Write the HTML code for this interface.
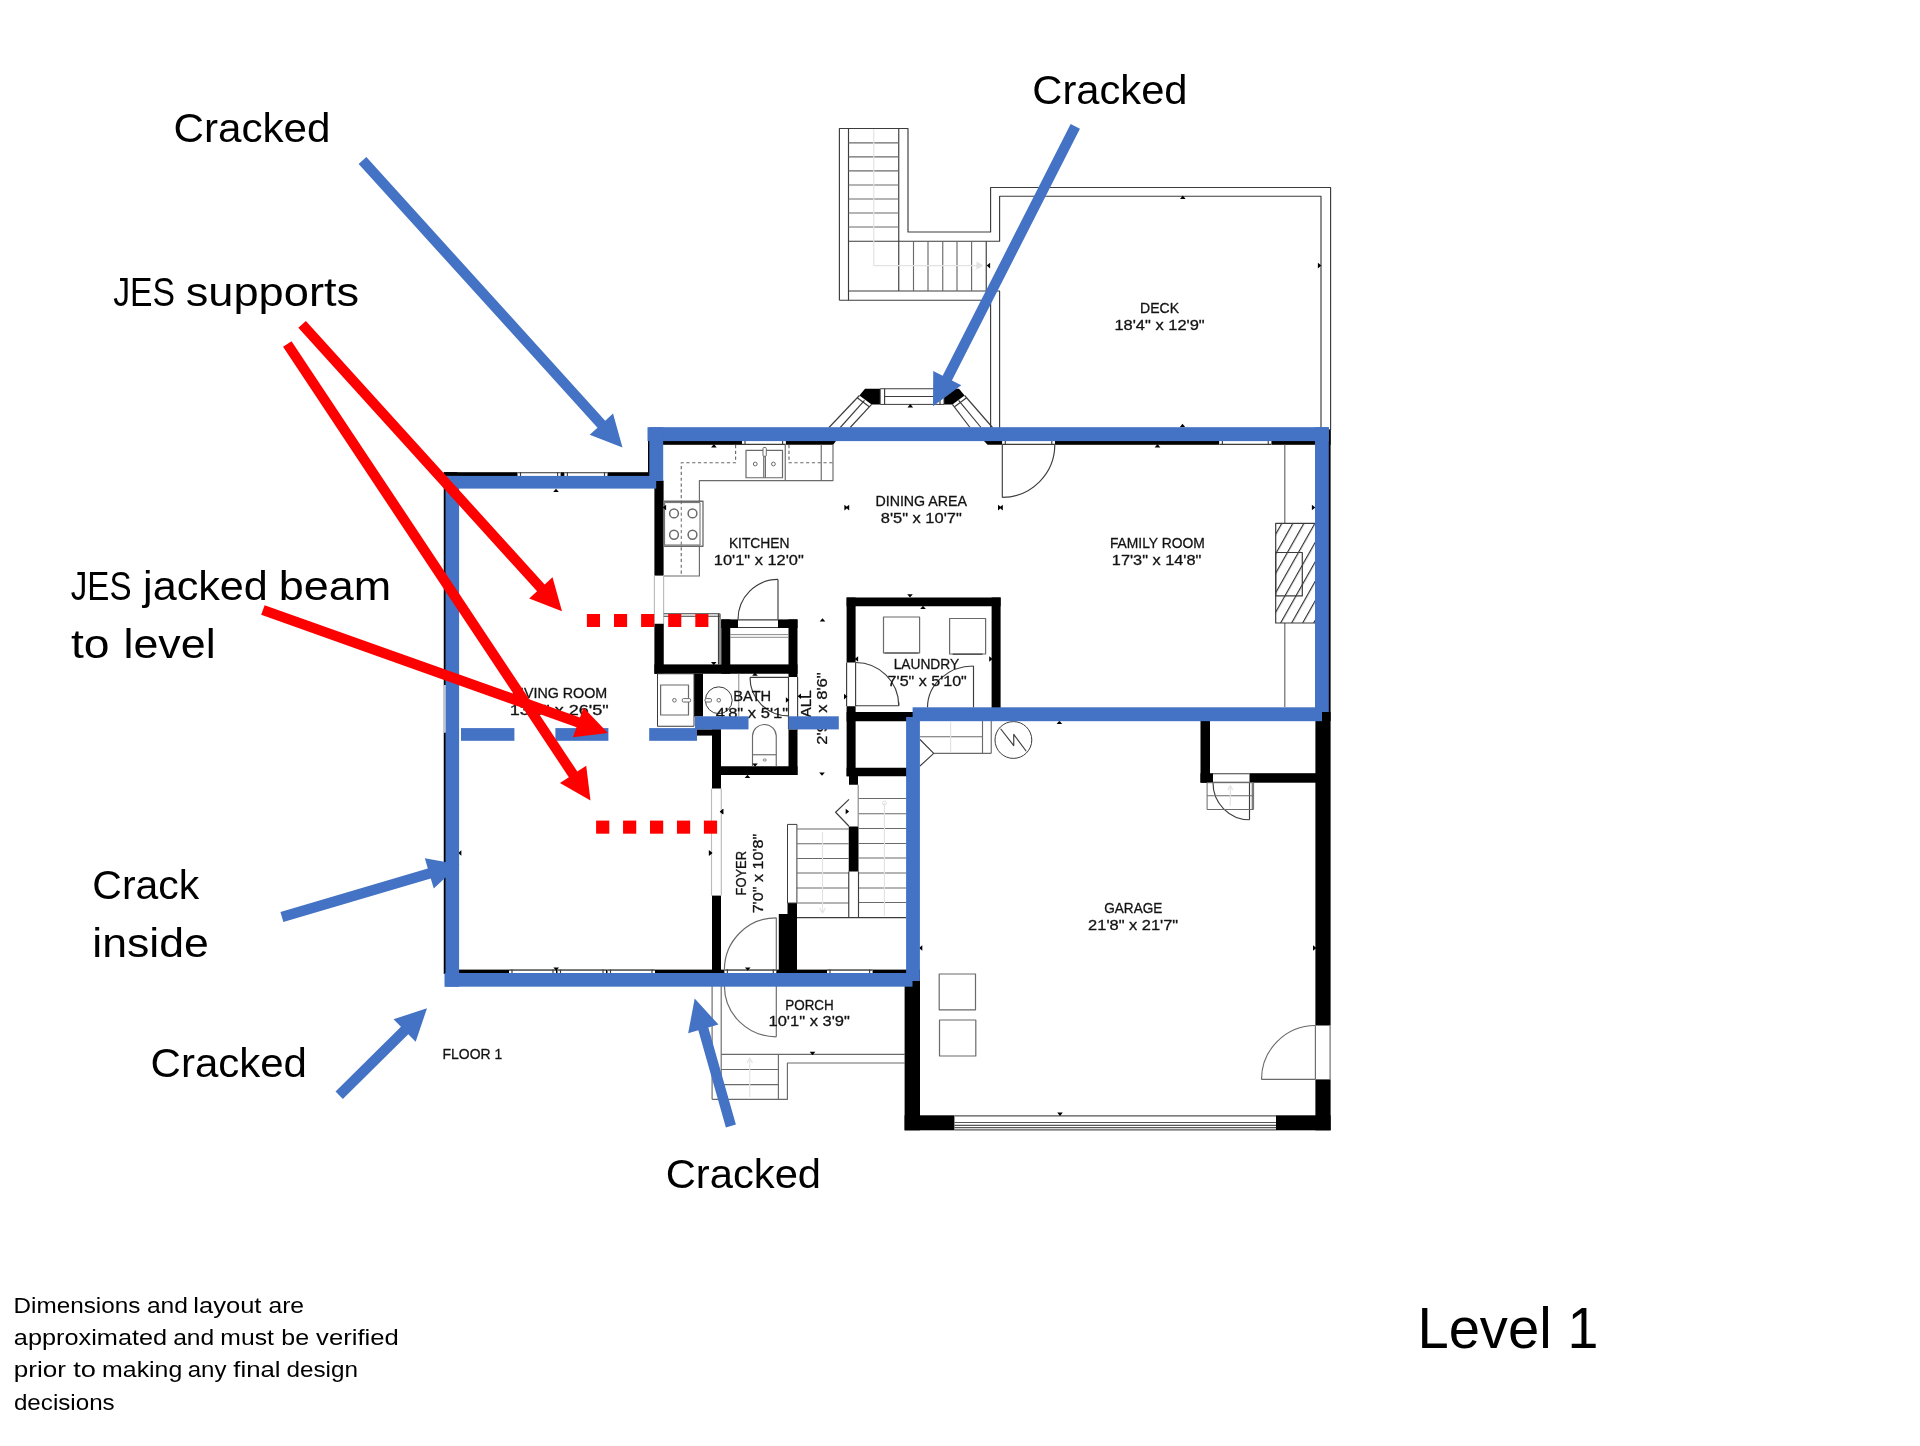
<!DOCTYPE html>
<html lang="en">
<head>
<meta charset="utf-8">
<title>Level 1 floor plan</title>
<style>
html,body{margin:0;padding:0;background:#fff;}
body{width:1920px;height:1446px;overflow:hidden;font-family:"Liberation Sans",sans-serif;}
svg{display:block;will-change:transform;}
</style>
</head>
<body>
<svg width="1920" height="1446" viewBox="0 0 1920 1446">
<rect width="1920" height="1446" fill="#ffffff"/>
<g id="plan" font-family="'Liberation Sans', sans-serif" stroke-linejoin="round">
<polyline points="839.40,300.25 839.40,128.50 908.00,128.50 908.00,232.00 990.60,232.00 990.60,187.50 1330.60,187.50 1330.60,430.00" fill="none" stroke="#3c3c3c" stroke-width="1.15" />
<polyline points="839.40,300.25 990.60,300.25 990.60,430.00" fill="none" stroke="#3c3c3c" stroke-width="1.15" />
<polyline points="848.50,128.50 848.50,300.25" fill="none" stroke="#3c3c3c" stroke-width="1.15" />
<polyline points="898.75,128.50 898.75,291.00" fill="none" stroke="#3c3c3c" stroke-width="1.15" />
<polyline points="848.50,241.25 999.60,241.25 999.60,196.25 1321.00,196.25 1321.00,430.00" fill="none" stroke="#3c3c3c" stroke-width="1.15" />
<polyline points="848.50,291.00 999.60,291.00 999.60,430.00" fill="none" stroke="#3c3c3c" stroke-width="1.15" />
<line x1="848.50" y1="142.90" x2="898.75" y2="142.90" stroke="#6a6a6a" stroke-width="1.15" />
<line x1="848.50" y1="156.90" x2="898.75" y2="156.90" stroke="#6a6a6a" stroke-width="1.15" />
<line x1="848.50" y1="170.90" x2="898.75" y2="170.90" stroke="#6a6a6a" stroke-width="1.15" />
<line x1="848.50" y1="185.00" x2="898.75" y2="185.00" stroke="#6a6a6a" stroke-width="1.15" />
<line x1="848.50" y1="199.00" x2="898.75" y2="199.00" stroke="#6a6a6a" stroke-width="1.15" />
<line x1="848.50" y1="213.00" x2="898.75" y2="213.00" stroke="#6a6a6a" stroke-width="1.15" />
<line x1="848.50" y1="227.00" x2="898.75" y2="227.00" stroke="#6a6a6a" stroke-width="1.15" />
<line x1="913.50" y1="241.25" x2="913.50" y2="291.00" stroke="#6a6a6a" stroke-width="1.15" />
<line x1="928.00" y1="241.25" x2="928.00" y2="291.00" stroke="#6a6a6a" stroke-width="1.15" />
<line x1="942.75" y1="241.25" x2="942.75" y2="291.00" stroke="#6a6a6a" stroke-width="1.15" />
<line x1="957.00" y1="241.25" x2="957.00" y2="291.00" stroke="#6a6a6a" stroke-width="1.15" />
<line x1="971.60" y1="241.25" x2="971.60" y2="291.00" stroke="#6a6a6a" stroke-width="1.15" />
<line x1="986.25" y1="241.25" x2="986.25" y2="291.00" stroke="#3c3c3c" stroke-width="1.15" />
<polyline points="873.75,129.00 873.75,265.60 981.00,265.60" fill="none" stroke="#e2e2e2" stroke-width="1.15" />
<polygon points="977.00,262.50 982.50,265.60 977.00,268.70" fill="#e2e2e2" stroke="#e2e2e2" stroke-width="1.15" />
<polygon points="865.00,388.75 880.20,388.75 880.20,404.40 871.60,404.40 859.40,395.50" fill="#000" stroke="none" stroke-width="0" />
<polygon points="959.00,388.75 944.00,388.75 944.00,404.40 952.40,404.40 964.60,395.50" fill="#000" stroke="none" stroke-width="0" />
<rect x="880.20" y="388.75" width="63.80" height="15.65" fill="#fff" stroke="#3c3c3c" stroke-width="1"/>
<line x1="884.60" y1="396.50" x2="940.00" y2="396.50" stroke="#3c3c3c" stroke-width="1.15" />
<line x1="884.60" y1="388.75" x2="884.60" y2="404.40" stroke="#3c3c3c" stroke-width="1.15" />
<line x1="940.00" y1="388.75" x2="940.00" y2="404.40" stroke="#3c3c3c" stroke-width="1.15" />
<line x1="859.40" y1="395.50" x2="829.00" y2="427.50" stroke="#3c3c3c" stroke-width="1.15" />
<line x1="864.50" y1="400.40" x2="840.30" y2="427.50" stroke="#3c3c3c" stroke-width="1.15" />
<line x1="871.60" y1="404.40" x2="850.20" y2="427.50" stroke="#3c3c3c" stroke-width="1.15" />
<line x1="857.20" y1="397.80" x2="869.30" y2="406.80" stroke="#3c3c3c" stroke-width="1.15" />
<line x1="964.60" y1="395.50" x2="992.50" y2="427.50" stroke="#3c3c3c" stroke-width="1.15" />
<line x1="958.60" y1="400.40" x2="981.00" y2="427.50" stroke="#3c3c3c" stroke-width="1.15" />
<line x1="952.40" y1="404.40" x2="970.00" y2="427.50" stroke="#3c3c3c" stroke-width="1.15" />
<line x1="966.60" y1="397.80" x2="954.60" y2="406.80" stroke="#3c3c3c" stroke-width="1.15" />
<rect x="648.00" y="430.50" width="94.00" height="14.30" fill="#000" />
<rect x="1054.80" y="430.50" width="164.60" height="14.30" fill="#000" />
<rect x="1271.25" y="430.50" width="59.35" height="14.30" fill="#000" />
<polygon points="785.60,430.50 836.00,430.50 836.00,441.00 833.20,444.80 785.60,444.80" fill="#000" stroke="none" stroke-width="0" />
<polygon points="984.00,430.50 1002.30,430.50 1002.30,444.80 987.60,444.80 984.00,441.00" fill="#000" stroke="none" stroke-width="0" />
<rect x="1317.00" y="429.40" width="13.60" height="291.60" fill="#000" />
<rect x="443.75" y="472.20" width="217.25" height="13.30" fill="#000" />
<rect x="648.00" y="430.50" width="13.50" height="55.00" fill="#000" />
<rect x="443.75" y="472.20" width="13.55" height="501.80" fill="#000" />
<rect x="445.00" y="969.60" width="475.00" height="13.40" fill="#000" />
<rect x="654.40" y="480.60" width="9.20" height="95.00" fill="#000" />
<rect x="742.00" y="430.50" width="43.60" height="14.30" fill="#fff" />
<line x1="742.00" y1="431.00" x2="785.60" y2="431.00" stroke="#3c3c3c" stroke-width="1.15" />
<line x1="742.00" y1="444.30" x2="785.60" y2="444.30" stroke="#3c3c3c" stroke-width="1.15" />
<line x1="745.00" y1="430.50" x2="745.00" y2="444.80" stroke="#3c3c3c" stroke-width="1.15" />
<line x1="782.60" y1="430.50" x2="782.60" y2="444.80" stroke="#3c3c3c" stroke-width="1.15" />
<rect x="1219.40" y="430.50" width="51.85" height="14.30" fill="#fff" />
<line x1="1219.40" y1="431.00" x2="1271.25" y2="431.00" stroke="#3c3c3c" stroke-width="1.15" />
<line x1="1219.40" y1="444.30" x2="1271.25" y2="444.30" stroke="#3c3c3c" stroke-width="1.15" />
<line x1="1222.40" y1="430.50" x2="1222.40" y2="444.80" stroke="#3c3c3c" stroke-width="1.15" />
<line x1="1268.25" y1="430.50" x2="1268.25" y2="444.80" stroke="#3c3c3c" stroke-width="1.15" />
<rect x="1002.30" y="430.50" width="52.50" height="14.30" fill="#fff" />
<line x1="1002.30" y1="431.00" x2="1054.80" y2="431.00" stroke="#3c3c3c" stroke-width="1.15" />
<line x1="1002.30" y1="444.30" x2="1054.80" y2="444.30" stroke="#3c3c3c" stroke-width="1.15" />
<line x1="1005.30" y1="430.50" x2="1005.30" y2="444.80" stroke="#3c3c3c" stroke-width="1.15" />
<line x1="1051.80" y1="430.50" x2="1051.80" y2="444.80" stroke="#3c3c3c" stroke-width="1.15" />
<line x1="1002.30" y1="444.60" x2="1002.30" y2="497.40" stroke="#3c3c3c" stroke-width="1.15" />
<path d="M1002.3,497.4 A52.6,52.8 0 0 0 1054.8,444.6" fill="none" stroke="#3c3c3c" stroke-width="1.15" />
<rect x="443.75" y="685.00" width="13.55" height="47.60" fill="#fff" />
<line x1="444.30" y1="685.00" x2="444.30" y2="732.60" stroke="#b8c0c8" stroke-width="1.2" />
<rect x="517.50" y="472.20" width="43.10" height="13.30" fill="#fff" />
<line x1="517.50" y1="472.70" x2="560.60" y2="472.70" stroke="#3c3c3c" stroke-width="1.15" />
<line x1="517.50" y1="485.00" x2="560.60" y2="485.00" stroke="#3c3c3c" stroke-width="1.15" />
<line x1="520.50" y1="472.20" x2="520.50" y2="485.50" stroke="#3c3c3c" stroke-width="1.15" />
<line x1="557.60" y1="472.20" x2="557.60" y2="485.50" stroke="#3c3c3c" stroke-width="1.15" />
<rect x="564.40" y="472.20" width="43.10" height="13.30" fill="#fff" />
<line x1="564.40" y1="472.70" x2="607.50" y2="472.70" stroke="#3c3c3c" stroke-width="1.15" />
<line x1="564.40" y1="485.00" x2="607.50" y2="485.00" stroke="#3c3c3c" stroke-width="1.15" />
<line x1="567.40" y1="472.20" x2="567.40" y2="485.50" stroke="#3c3c3c" stroke-width="1.15" />
<line x1="604.50" y1="472.20" x2="604.50" y2="485.50" stroke="#3c3c3c" stroke-width="1.15" />
<rect x="509.00" y="969.60" width="47.00" height="13.40" fill="#fff" />
<line x1="509.00" y1="970.10" x2="556.00" y2="970.10" stroke="#3c3c3c" stroke-width="1.15" />
<line x1="509.00" y1="982.50" x2="556.00" y2="982.50" stroke="#3c3c3c" stroke-width="1.15" />
<line x1="512.00" y1="969.60" x2="512.00" y2="983.00" stroke="#3c3c3c" stroke-width="1.15" />
<line x1="553.00" y1="969.60" x2="553.00" y2="983.00" stroke="#3c3c3c" stroke-width="1.15" />
<rect x="557.50" y="969.60" width="48.50" height="13.40" fill="#fff" />
<line x1="557.50" y1="970.10" x2="606.00" y2="970.10" stroke="#3c3c3c" stroke-width="1.15" />
<line x1="557.50" y1="982.50" x2="606.00" y2="982.50" stroke="#3c3c3c" stroke-width="1.15" />
<line x1="560.50" y1="969.60" x2="560.50" y2="983.00" stroke="#3c3c3c" stroke-width="1.15" />
<line x1="603.00" y1="969.60" x2="603.00" y2="983.00" stroke="#3c3c3c" stroke-width="1.15" />
<rect x="607.50" y="969.60" width="47.50" height="13.40" fill="#fff" />
<line x1="607.50" y1="970.10" x2="655.00" y2="970.10" stroke="#3c3c3c" stroke-width="1.15" />
<line x1="607.50" y1="982.50" x2="655.00" y2="982.50" stroke="#3c3c3c" stroke-width="1.15" />
<line x1="610.50" y1="969.60" x2="610.50" y2="983.00" stroke="#3c3c3c" stroke-width="1.15" />
<line x1="652.00" y1="969.60" x2="652.00" y2="983.00" stroke="#3c3c3c" stroke-width="1.15" />
<rect x="827.00" y="969.60" width="45.60" height="13.40" fill="#fff" />
<line x1="827.00" y1="970.10" x2="872.60" y2="970.10" stroke="#3c3c3c" stroke-width="1.15" />
<line x1="827.00" y1="982.50" x2="872.60" y2="982.50" stroke="#3c3c3c" stroke-width="1.15" />
<line x1="830.00" y1="969.60" x2="830.00" y2="983.00" stroke="#3c3c3c" stroke-width="1.15" />
<line x1="869.60" y1="969.60" x2="869.60" y2="983.00" stroke="#3c3c3c" stroke-width="1.15" />
<rect x="724.40" y="969.60" width="51.90" height="13.40" fill="#fff" />
<line x1="724.40" y1="970.10" x2="776.30" y2="970.10" stroke="#3c3c3c" stroke-width="1.15" />
<line x1="724.40" y1="982.50" x2="776.30" y2="982.50" stroke="#3c3c3c" stroke-width="1.15" />
<line x1="727.40" y1="969.60" x2="727.40" y2="983.00" stroke="#3c3c3c" stroke-width="1.15" />
<line x1="773.30" y1="969.60" x2="773.30" y2="983.00" stroke="#3c3c3c" stroke-width="1.15" />
<polyline points="663.60,576.00 699.40,576.00 699.40,480.60 833.00,480.60 833.00,444.80" fill="none" stroke="#6a6a6a" stroke-width="1.15" />
<line x1="821.25" y1="444.80" x2="821.25" y2="480.60" stroke="#6a6a6a" stroke-width="1.15" />
<line x1="785.25" y1="444.80" x2="785.25" y2="480.60" stroke="#6a6a6a" stroke-width="1.15" />
<polyline points="735.60,445.00 735.60,462.75 681.25,462.75 681.25,574.00" fill="none" stroke="#6a6a6a" stroke-width="1.15" stroke-dasharray="3.2 2.6"/>
<polyline points="789.00,445.00 789.00,462.75 833.00,462.75" fill="none" stroke="#6a6a6a" stroke-width="1.15" stroke-dasharray="3.2 2.6"/>
<rect x="746.00" y="450.40" width="36.50" height="27.35" fill="#fff" stroke="#6a6a6a" stroke-width="1.2"/>
<line x1="763.75" y1="450.40" x2="763.75" y2="477.75" stroke="#6a6a6a" stroke-width="1.15" />
<line x1="765.40" y1="450.40" x2="765.40" y2="477.75" stroke="#6a6a6a" stroke-width="1.15" />
<circle cx="755.25" cy="464.00" r="1.90" fill="none" stroke="#6a6a6a" stroke-width="1"/>
<circle cx="773.40" cy="464.00" r="1.90" fill="none" stroke="#6a6a6a" stroke-width="1"/>
<rect x="763.00" y="447.50" width="3.30" height="8.80" fill="#fff" stroke="#6a6a6a" stroke-width="1" rx="1"/>
<rect x="663.60" y="501.25" width="39.40" height="45.00" fill="#fff" stroke="#6a6a6a" stroke-width="1.3"/>
<rect x="664.60" y="502.60" width="35.40" height="42.40" fill="none" stroke="#6a6a6a" stroke-width="1"/>
<line x1="681.25" y1="501.00" x2="681.25" y2="547.00" stroke="#6a6a6a" stroke-width="1" stroke-dasharray="3.2 2.6"/>
<circle cx="674.00" cy="513.40" r="4.40" fill="none" stroke="#6a6a6a" stroke-width="1.5"/>
<circle cx="674.00" cy="534.75" r="4.40" fill="none" stroke="#6a6a6a" stroke-width="1.5"/>
<circle cx="692.50" cy="513.40" r="4.40" fill="none" stroke="#6a6a6a" stroke-width="1.5"/>
<circle cx="692.50" cy="534.75" r="4.40" fill="none" stroke="#6a6a6a" stroke-width="1.5"/>
<line x1="654.40" y1="575.60" x2="654.40" y2="623.75" stroke="#bbb" stroke-width="1.15" />
<line x1="663.60" y1="575.60" x2="663.60" y2="623.75" stroke="#bbb" stroke-width="1.15" />
<rect x="654.40" y="623.75" width="9.35" height="50.00" fill="#000" />
<rect x="654.40" y="664.40" width="143.10" height="9.35" fill="#000" />
<rect x="721.25" y="619.40" width="16.75" height="8.60" fill="#000" />
<rect x="778.00" y="619.40" width="19.50" height="8.60" fill="#000" />
<rect x="721.25" y="619.40" width="9.00" height="54.35" fill="#000" />
<rect x="788.50" y="619.40" width="9.00" height="57.60" fill="#000" />
<rect x="694.00" y="673.75" width="9.00" height="42.75" fill="#000" />
<rect x="697.00" y="729.40" width="23.60" height="6.20" fill="#000" />
<rect x="712.00" y="729.40" width="9.00" height="59.10" fill="#000" />
<rect x="712.00" y="766.25" width="85.50" height="8.75" fill="#000" />
<rect x="788.50" y="729.40" width="9.00" height="45.60" fill="#000" />
<line x1="738.00" y1="619.90" x2="778.00" y2="619.90" stroke="#3c3c3c" stroke-width="1.15" />
<line x1="738.00" y1="627.50" x2="778.00" y2="627.50" stroke="#3c3c3c" stroke-width="1.15" />
<line x1="778.00" y1="619.40" x2="778.00" y2="579.40" stroke="#3c3c3c" stroke-width="1.15" />
<path d="M778,579.4 A40,40 0 0 0 738,619.4" fill="none" stroke="#3c3c3c" stroke-width="1.15" />
<line x1="730.25" y1="634.60" x2="788.50" y2="634.60" stroke="#6a6a6a" stroke-width="0.8" />
<line x1="730.25" y1="637.30" x2="788.50" y2="637.30" stroke="#6a6a6a" stroke-width="0.8" />
<line x1="663.75" y1="613.75" x2="719.80" y2="613.75" stroke="#3c3c3c" stroke-width="1.15" />
<line x1="663.75" y1="616.25" x2="719.80" y2="616.25" stroke="#3c3c3c" stroke-width="1.15" />
<line x1="718.50" y1="613.75" x2="718.50" y2="664.40" stroke="#3c3c3c" stroke-width="1.15" />
<line x1="720.00" y1="613.75" x2="720.00" y2="664.40" stroke="#3c3c3c" stroke-width="1.15" />
<rect x="657.50" y="673.75" width="36.50" height="52.50" fill="none" stroke="#3c3c3c" stroke-width="1"/>
<rect x="660.60" y="685.00" width="27.90" height="30.00" fill="none" stroke="#6a6a6a" stroke-width="1.2"/>
<circle cx="674.40" cy="700.25" r="1.80" fill="none" stroke="#6a6a6a" stroke-width="1"/>
<rect x="682.25" y="698.60" width="8.35" height="3.40" fill="#fff" stroke="#6a6a6a" stroke-width="1" rx="1.2"/>
<circle cx="718.75" cy="700.25" r="13.40" fill="none" stroke="#3c3c3c" stroke-width="1"/>
<circle cx="718.75" cy="700.25" r="1.80" fill="none" stroke="#6a6a6a" stroke-width="1"/>
<rect x="705.00" y="698.60" width="6.50" height="3.40" fill="#fff" stroke="#6a6a6a" stroke-width="1" rx="1.2"/>
<line x1="738.75" y1="673.75" x2="738.75" y2="716.00" stroke="#999" stroke-width="1.15" />
<line x1="750.00" y1="677.40" x2="788.50" y2="677.40" stroke="#3c3c3c" stroke-width="1.15" />
<path d="M750,677.4 A38.5,38.5 0 0 0 788.5,715.9" fill="none" stroke="#3c3c3c" stroke-width="1.15" />
<line x1="788.50" y1="677.00" x2="788.50" y2="729.40" stroke="#3c3c3c" stroke-width="1.15" />
<line x1="797.60" y1="677.00" x2="797.60" y2="729.40" stroke="#3c3c3c" stroke-width="1.15" />
<path d="M752.5,766.25 L752.5,735.6 A11.9,11.9 0 0 1 776.25,735.6 L776.25,766.25" fill="none" stroke="#6a6a6a" stroke-width="1.15" />
<line x1="752.50" y1="754.75" x2="776.25" y2="754.75" stroke="#6a6a6a" stroke-width="1.15" />
<rect x="763.20" y="759.00" width="3.10" height="2.00" fill="none" stroke="#6a6a6a" stroke-width="0.8" rx="1"/>
<rect x="846.60" y="597.50" width="9.00" height="65.00" fill="#000" />
<rect x="846.60" y="706.25" width="9.00" height="70.00" fill="#000" />
<rect x="846.60" y="597.50" width="154.00" height="8.75" fill="#000" />
<rect x="991.60" y="597.50" width="9.00" height="114.50" fill="#000" />
<rect x="846.60" y="712.00" width="68.40" height="9.25" fill="#000" />
<rect x="846.60" y="767.75" width="63.40" height="8.50" fill="#000" />
<rect x="849.00" y="776.00" width="9.00" height="8.75" fill="#000" />
<rect x="883.50" y="617.00" width="36.10" height="36.00" fill="none" stroke="#6a6a6a" stroke-width="1.2"/>
<rect x="949.60" y="618.50" width="36.00" height="35.50" fill="none" stroke="#6a6a6a" stroke-width="1.2"/>
<line x1="884.50" y1="653.00" x2="918.60" y2="653.00" stroke="#3c3c3c" stroke-width="1.2" />
<line x1="952.60" y1="654.20" x2="982.60" y2="654.20" stroke="#3c3c3c" stroke-width="1.2" />
<line x1="846.60" y1="662.50" x2="846.60" y2="706.25" stroke="#3c3c3c" stroke-width="1.15" />
<line x1="855.60" y1="662.50" x2="855.60" y2="706.25" stroke="#3c3c3c" stroke-width="1.15" />
<line x1="855.60" y1="705.70" x2="898.75" y2="705.70" stroke="#3c3c3c" stroke-width="1.15" />
<line x1="898.75" y1="705.70" x2="898.75" y2="702.00" stroke="#3c3c3c" stroke-width="1.15" />
<path d="M898.75,705.7 A43.2,43.2 0 0 0 855.6,662.5" fill="none" stroke="#3c3c3c" stroke-width="1.15" />
<line x1="973.50" y1="666.00" x2="973.50" y2="707.50" stroke="#3c3c3c" stroke-width="1.15" />
<path d="M927.5,707.5 A46,41.5 0 0 1 973.5,666" fill="none" stroke="#3c3c3c" stroke-width="1.15" />
<line x1="920.00" y1="736.70" x2="982.50" y2="736.70" stroke="#6a6a6a" stroke-width="1.15" />
<line x1="933.50" y1="753.30" x2="991.25" y2="753.30" stroke="#6a6a6a" stroke-width="1.15" />
<line x1="982.50" y1="721.00" x2="982.50" y2="753.30" stroke="#6a6a6a" stroke-width="1.15" />
<line x1="991.25" y1="721.00" x2="991.25" y2="753.30" stroke="#6a6a6a" stroke-width="1.15" />
<polyline points="920.00,739.50 933.70,753.30 920.00,766.00" fill="none" stroke="#3c3c3c" stroke-width="1.15" />
<line x1="950.60" y1="722.00" x2="950.60" y2="753.00" stroke="#e2e2e2" stroke-width="1.15" />
<circle cx="1013.40" cy="740.00" r="18.40" fill="none" stroke="#3c3c3c" stroke-width="1"/>
<polyline points="1000.60,728.75 1013.75,745.60 1013.75,734.40 1026.25,751.25" fill="none" stroke="#3c3c3c" stroke-width="1.15" />
<rect x="848.75" y="826.50" width="9.75" height="45.00" fill="#000" />
<rect x="787.50" y="903.00" width="9.50" height="80.00" fill="#000" />
<rect x="778.80" y="914.00" width="18.20" height="69.00" fill="#000" />
<rect x="712.00" y="895.60" width="9.00" height="87.40" fill="#000" />
<rect x="787.50" y="824.40" width="9.40" height="78.60" fill="#fff" stroke="#3c3c3c" stroke-width="1"/>
<line x1="796.90" y1="829.00" x2="848.75" y2="829.00" stroke="#6a6a6a" stroke-width="1.2" />
<line x1="796.90" y1="843.75" x2="848.75" y2="843.75" stroke="#6a6a6a" stroke-width="1.2" />
<line x1="796.90" y1="858.50" x2="848.75" y2="858.50" stroke="#6a6a6a" stroke-width="1.2" />
<line x1="796.90" y1="873.00" x2="848.75" y2="873.00" stroke="#6a6a6a" stroke-width="1.2" />
<line x1="796.90" y1="888.00" x2="848.75" y2="888.00" stroke="#6a6a6a" stroke-width="1.2" />
<line x1="796.90" y1="903.00" x2="848.75" y2="903.00" stroke="#6a6a6a" stroke-width="1.2" />
<line x1="858.50" y1="798.50" x2="906.25" y2="798.50" stroke="#6a6a6a" stroke-width="1.2" />
<line x1="858.50" y1="813.75" x2="906.25" y2="813.75" stroke="#6a6a6a" stroke-width="1.2" />
<line x1="858.50" y1="828.50" x2="906.25" y2="828.50" stroke="#6a6a6a" stroke-width="1.2" />
<line x1="858.50" y1="843.50" x2="906.25" y2="843.50" stroke="#6a6a6a" stroke-width="1.2" />
<line x1="858.50" y1="858.00" x2="906.25" y2="858.00" stroke="#6a6a6a" stroke-width="1.2" />
<line x1="858.50" y1="873.00" x2="906.25" y2="873.00" stroke="#6a6a6a" stroke-width="1.2" />
<line x1="858.50" y1="888.00" x2="906.25" y2="888.00" stroke="#6a6a6a" stroke-width="1.2" />
<line x1="858.50" y1="902.50" x2="906.25" y2="902.50" stroke="#6a6a6a" stroke-width="1.2" />
<line x1="796.90" y1="917.70" x2="906.25" y2="917.70" stroke="#3c3c3c" stroke-width="1.2" />
<line x1="848.75" y1="871.50" x2="848.75" y2="917.70" stroke="#3c3c3c" stroke-width="1.15" />
<line x1="858.50" y1="871.50" x2="858.50" y2="917.70" stroke="#3c3c3c" stroke-width="1.15" />
<line x1="858.20" y1="784.75" x2="858.20" y2="826.50" stroke="#888" stroke-width="1.15" />
<line x1="822.50" y1="832.00" x2="822.50" y2="912.00" stroke="#e2e2e2" stroke-width="1.15" />
<polyline points="819.50,908.00 822.50,913.00 825.50,908.00" fill="none" stroke="#e2e2e2" stroke-width="1.15" />
<line x1="884.40" y1="803.00" x2="884.40" y2="916.00" stroke="#e2e2e2" stroke-width="1.15" />
<circle cx="884.40" cy="803.00" r="2.00" fill="none" stroke="#e2e2e2" stroke-width="1"/>
<polyline points="849.00,799.40 835.60,812.25 849.00,826.25" fill="none" stroke="#3c3c3c" stroke-width="1.15" />
<line x1="711.50" y1="788.50" x2="711.50" y2="895.60" stroke="#bbb" stroke-width="1.15" />
<line x1="721.30" y1="788.50" x2="721.30" y2="895.60" stroke="#bbb" stroke-width="1.15" />
<line x1="776.30" y1="917.80" x2="776.30" y2="970.00" stroke="#6a6a6a" stroke-width="1.15" />
<path d="M776.3,917.8 A52,52 0 0 0 724.4,969.6" fill="none" stroke="#6a6a6a" stroke-width="1.15" />
<line x1="776.30" y1="986.00" x2="776.30" y2="1036.80" stroke="#6a6a6a" stroke-width="1.15" />
<path d="M724.4,986 A52,51 0 0 0 776.3,1036.8" fill="none" stroke="#6a6a6a" stroke-width="1.15" />
<line x1="712.10" y1="986.00" x2="712.10" y2="1099.30" stroke="#6a6a6a" stroke-width="1.15" />
<line x1="721.20" y1="986.00" x2="721.20" y2="1099.30" stroke="#6a6a6a" stroke-width="1.15" />
<line x1="721.20" y1="1054.40" x2="904.60" y2="1054.40" stroke="#6a6a6a" stroke-width="1.15" />
<polyline points="904.60,1063.00 787.40,1063.00 787.40,1099.30 712.10,1099.30" fill="none" stroke="#6a6a6a" stroke-width="1.15" />
<line x1="778.40" y1="1054.40" x2="778.40" y2="1099.30" stroke="#6a6a6a" stroke-width="1.15" />
<line x1="721.20" y1="1069.50" x2="778.40" y2="1069.50" stroke="#6a6a6a" stroke-width="1.15" />
<line x1="721.20" y1="1084.60" x2="778.40" y2="1084.60" stroke="#6a6a6a" stroke-width="1.15" />
<line x1="749.75" y1="1060.00" x2="749.75" y2="1097.00" stroke="#e2e2e2" stroke-width="1.15" />
<polyline points="747.00,1063.00 749.75,1058.00 752.50,1063.00" fill="none" stroke="#e2e2e2" stroke-width="1.15" />
<rect x="904.60" y="981.00" width="15.40" height="149.30" fill="#000" />
<rect x="904.60" y="1115.30" width="49.80" height="15.00" fill="#000" />
<rect x="1276.00" y="1115.30" width="54.60" height="15.00" fill="#000" />
<rect x="1315.40" y="712.00" width="15.20" height="313.50" fill="#000" />
<rect x="1315.40" y="1079.40" width="15.20" height="50.90" fill="#000" />
<rect x="1200.50" y="721.00" width="9.50" height="61.70" fill="#000" />
<rect x="1200.50" y="773.20" width="12.50" height="9.50" fill="#000" />
<rect x="1249.50" y="773.20" width="66.50" height="9.50" fill="#000" />
<line x1="954.40" y1="1115.80" x2="1276.00" y2="1115.80" stroke="#555" stroke-width="1.15" />
<line x1="954.40" y1="1122.50" x2="1276.00" y2="1122.50" stroke="#555" stroke-width="1.15" />
<line x1="954.40" y1="1125.30" x2="1276.00" y2="1125.30" stroke="#555" stroke-width="1.15" />
<line x1="954.40" y1="1127.60" x2="1276.00" y2="1127.60" stroke="#555" stroke-width="1.15" />
<line x1="954.40" y1="1129.80" x2="1276.00" y2="1129.80" stroke="#555" stroke-width="1.15" />
<line x1="1315.40" y1="1025.50" x2="1315.40" y2="1079.40" stroke="#6a6a6a" stroke-width="1.15" />
<line x1="1330.10" y1="1025.50" x2="1330.10" y2="1079.40" stroke="#6a6a6a" stroke-width="1.15" />
<line x1="1261.50" y1="1079.40" x2="1315.40" y2="1079.40" stroke="#6a6a6a" stroke-width="1.15" />
<path d="M1261.5,1079.4 A54,54 0 0 1 1315.4,1025.5" fill="none" stroke="#6a6a6a" stroke-width="1.15" />
<rect x="939.20" y="974.00" width="36.30" height="35.80" fill="none" stroke="#6a6a6a" stroke-width="1.2"/>
<rect x="939.50" y="1020.00" width="36.30" height="36.00" fill="none" stroke="#6a6a6a" stroke-width="1.2"/>
<line x1="1213.00" y1="773.70" x2="1249.50" y2="773.70" stroke="#3c3c3c" stroke-width="1.15" />
<line x1="1213.00" y1="782.20" x2="1249.50" y2="782.20" stroke="#3c3c3c" stroke-width="1.15" />
<line x1="1249.50" y1="782.70" x2="1249.50" y2="819.80" stroke="#3c3c3c" stroke-width="1.15" />
<path d="M1213,782.7 A36.8,37 0 0 0 1249.5,819.8" fill="none" stroke="#3c3c3c" stroke-width="1.15" />
<rect x="1207.10" y="782.70" width="46.50" height="26.80" fill="none" stroke="#6a6a6a" stroke-width="1"/>
<line x1="1207.10" y1="795.70" x2="1253.60" y2="795.70" stroke="#6a6a6a" stroke-width="1.15" />
<line x1="1252.30" y1="782.70" x2="1252.30" y2="809.50" stroke="#6a6a6a" stroke-width="1.15" />
<line x1="1230.30" y1="787.00" x2="1230.30" y2="806.00" stroke="#e2e2e2" stroke-width="1.15" />
<polyline points="1227.80,790.00 1230.30,785.50 1232.80,790.00" fill="none" stroke="#e2e2e2" stroke-width="1.15" />
<line x1="1284.80" y1="444.80" x2="1284.80" y2="707.00" stroke="#666" stroke-width="1.15" />
<defs><pattern id="hatch" patternUnits="userSpaceOnUse" width="9.6" height="40" patternTransform="rotate(29.5)"><rect width="9.6" height="40" fill="#fff"/><line x1="0.6" y1="0" x2="0.6" y2="40" stroke="#222" stroke-width="1.1"/></pattern></defs>
<rect x="1275.70" y="523.40" width="41.30" height="99.60" fill="url(#hatch)" stroke="#3c3c3c" stroke-width="1.2"/>
<rect x="1275.70" y="552.50" width="26.60" height="43.40" fill="none" stroke="#3c3c3c" stroke-width="1.2"/>
<text x="1140.11" y="313.00" font-size="13.9" fill="#111" textLength="38.94" lengthAdjust="spacingAndGlyphs" stroke="#1a1a1a" stroke-width="0.3">DECK</text>
<text x="1114.41" y="329.90" font-size="13.9" fill="#111" textLength="90.30" lengthAdjust="spacingAndGlyphs" stroke="#1a1a1a" stroke-width="0.3">18'4&quot; x 12'9&quot;</text>
<text x="875.45" y="505.80" font-size="13.9" fill="#111" textLength="91.61" lengthAdjust="spacingAndGlyphs" stroke="#1a1a1a" stroke-width="0.3">DINING AREA</text>
<text x="880.76" y="522.70" font-size="13.9" fill="#111" textLength="81.04" lengthAdjust="spacingAndGlyphs" stroke="#1a1a1a" stroke-width="0.3">8'5&quot; x 10'7&quot;</text>
<text x="728.88" y="547.90" font-size="13.9" fill="#111" textLength="60.66" lengthAdjust="spacingAndGlyphs" stroke="#1a1a1a" stroke-width="0.3">KITCHEN</text>
<text x="713.82" y="564.80" font-size="13.9" fill="#111" textLength="89.89" lengthAdjust="spacingAndGlyphs" stroke="#1a1a1a" stroke-width="0.3">10'1&quot; x 12'0&quot;</text>
<text x="1109.88" y="548.20" font-size="13.9" fill="#111" textLength="94.83" lengthAdjust="spacingAndGlyphs" stroke="#1a1a1a" stroke-width="0.3">FAMILY ROOM</text>
<text x="1111.82" y="565.10" font-size="13.9" fill="#111" textLength="89.48" lengthAdjust="spacingAndGlyphs" stroke="#1a1a1a" stroke-width="0.3">17'3&quot; x 14'8&quot;</text>
<text x="512.04" y="698.30" font-size="13.9" fill="#111" textLength="95.13" lengthAdjust="spacingAndGlyphs" stroke="#1a1a1a" stroke-width="0.3">LIVING ROOM</text>
<text x="509.70" y="715.20" font-size="13.9" fill="#111" textLength="99.08" lengthAdjust="spacingAndGlyphs" stroke="#1a1a1a" stroke-width="0.3">13'5&quot; x 26'5&quot;</text>
<text x="733.21" y="700.60" font-size="13.9" fill="#111" textLength="37.94" lengthAdjust="spacingAndGlyphs" stroke="#1a1a1a" stroke-width="0.3">BATH</text>
<text x="715.80" y="717.50" font-size="13.9" fill="#111" textLength="72.34" lengthAdjust="spacingAndGlyphs" stroke="#1a1a1a" stroke-width="0.3">4'8&quot; x 5'1&quot;</text>
<text x="893.63" y="668.60" font-size="13.9" fill="#111" textLength="65.54" lengthAdjust="spacingAndGlyphs" stroke="#1a1a1a" stroke-width="0.3">LAUNDRY</text>
<text x="887.63" y="685.50" font-size="13.9" fill="#111" textLength="79.20" lengthAdjust="spacingAndGlyphs" stroke="#1a1a1a" stroke-width="0.3">7'5&quot; x 5'10&quot;</text>
<text x="1104.27" y="913.00" font-size="13.9" fill="#111" textLength="58.04" lengthAdjust="spacingAndGlyphs" stroke="#1a1a1a" stroke-width="0.3">GARAGE</text>
<text x="1088.11" y="929.90" font-size="13.9" fill="#111" textLength="90.10" lengthAdjust="spacingAndGlyphs" stroke="#1a1a1a" stroke-width="0.3">21'8&quot; x 21'7&quot;</text>
<text x="785.21" y="1009.50" font-size="13.9" fill="#111" textLength="48.56" lengthAdjust="spacingAndGlyphs" stroke="#1a1a1a" stroke-width="0.3">PORCH</text>
<text x="768.51" y="1026.40" font-size="13.9" fill="#111" textLength="81.39" lengthAdjust="spacingAndGlyphs" stroke="#1a1a1a" stroke-width="0.3">10'1&quot; x 3'9&quot;</text>
<text x="442.62" y="1059.00" font-size="13.9" fill="#111" textLength="59.63" lengthAdjust="spacingAndGlyphs" stroke="#1a1a1a" stroke-width="0.3">FLOOR 1</text>
<text x="746.25" y="895.45" font-size="13.9" fill="#111" textLength="44.47" lengthAdjust="spacingAndGlyphs" transform="rotate(-90 746.25 895.45)" stroke="#1a1a1a" stroke-width="0.3">FOYER</text>
<text x="763.00" y="913.37" font-size="13.9" fill="#111" textLength="79.56" lengthAdjust="spacingAndGlyphs" transform="rotate(-90 763.00 913.37)" stroke="#1a1a1a" stroke-width="0.3">7'0&quot; x 10'8&quot;</text>
<text x="810.60" y="728.44" font-size="13.9" fill="#111" textLength="38.35" lengthAdjust="spacingAndGlyphs" transform="rotate(-90 810.60 728.44)" stroke="#1a1a1a" stroke-width="0.3">HALL</text>
<text x="827.50" y="744.64" font-size="13.9" fill="#111" textLength="72.29" lengthAdjust="spacingAndGlyphs" transform="rotate(-90 827.50 744.64)" stroke="#1a1a1a" stroke-width="0.3">2'9&quot; x 8'6&quot;</text>
<polygon points="1182.80,195.60 1180.00,199.00 1185.60,199.00" fill="#000" stroke="none" stroke-width="0" />
<polygon points="986.70,265.60 990.10,262.80 990.10,268.40" fill="#000" stroke="none" stroke-width="0" />
<polygon points="1321.30,265.60 1317.90,262.80 1317.90,268.40" fill="#000" stroke="none" stroke-width="0" />
<polygon points="556.00,488.70 553.20,492.10 558.80,492.10" fill="#000" stroke="none" stroke-width="0" />
<polygon points="713.90,444.00 711.10,447.40 716.70,447.40" fill="#000" stroke="none" stroke-width="0" />
<polygon points="1157.50,444.00 1154.70,447.40 1160.30,447.40" fill="#000" stroke="none" stroke-width="0" />
<polygon points="1059.40,720.70 1056.60,724.10 1062.20,724.10" fill="#000" stroke="none" stroke-width="0" />
<polygon points="1315.30,507.50 1311.90,504.70 1311.90,510.30" fill="#000" stroke="none" stroke-width="0" />
<polygon points="662.70,507.50 666.10,504.70 666.10,510.30" fill="#000" stroke="none" stroke-width="0" />
<polygon points="847.80,507.60 844.40,504.80 844.40,510.40" fill="#000" stroke="none" stroke-width="0" />
<polygon points="845.80,507.60 849.20,504.80 849.20,510.40" fill="#000" stroke="none" stroke-width="0" />
<polygon points="1001.40,507.60 998.00,504.80 998.00,510.40" fill="#000" stroke="none" stroke-width="0" />
<polygon points="999.40,507.60 1002.80,504.80 1002.80,510.40" fill="#000" stroke="none" stroke-width="0" />
<polygon points="910.00,597.60 907.20,594.20 912.80,594.20" fill="#000" stroke="none" stroke-width="0" />
<polygon points="923.00,605.70 920.20,609.10 925.80,609.10" fill="#000" stroke="none" stroke-width="0" />
<polygon points="854.70,659.00 858.10,656.20 858.10,661.80" fill="#000" stroke="none" stroke-width="0" />
<polygon points="992.60,659.00 989.20,656.20 989.20,661.80" fill="#000" stroke="none" stroke-width="0" />
<polygon points="822.50,618.20 819.70,621.60 825.30,621.60" fill="#000" stroke="none" stroke-width="0" />
<polygon points="713.75,665.30 710.95,661.90 716.55,661.90" fill="#000" stroke="none" stroke-width="0" />
<polygon points="755.00,672.40 752.20,675.80 757.80,675.80" fill="#000" stroke="none" stroke-width="0" />
<polygon points="789.30,700.00 785.90,697.20 785.90,702.80" fill="#000" stroke="none" stroke-width="0" />
<polygon points="797.60,696.30 801.00,693.50 801.00,699.10" fill="#000" stroke="none" stroke-width="0" />
<polygon points="847.40,696.60 844.00,693.80 844.00,699.40" fill="#000" stroke="none" stroke-width="0" />
<polygon points="719.95,811.50 723.35,808.70 723.35,814.30" fill="#000" stroke="none" stroke-width="0" />
<polygon points="849.10,811.50 845.70,808.70 845.70,814.30" fill="#000" stroke="none" stroke-width="0" />
<polygon points="712.20,853.00 708.80,850.20 708.80,855.80" fill="#000" stroke="none" stroke-width="0" />
<polygon points="747.50,774.70 744.70,778.10 750.30,778.10" fill="#000" stroke="none" stroke-width="0" />
<polygon points="822.00,775.80 819.20,772.40 824.80,772.40" fill="#000" stroke="none" stroke-width="0" />
<polygon points="755.00,766.80 752.20,763.40 757.80,763.40" fill="#000" stroke="none" stroke-width="0" />
<polygon points="458.00,853.00 461.40,850.20 461.40,855.80" fill="#000" stroke="none" stroke-width="0" />
<polygon points="712.50,853.00 709.10,850.20 709.10,855.80" fill="#000" stroke="none" stroke-width="0" />
<polygon points="719.70,811.70 723.10,808.90 723.10,814.50" fill="#000" stroke="none" stroke-width="0" />
<polygon points="747.75,970.80 744.95,967.40 750.55,967.40" fill="#000" stroke="none" stroke-width="0" />
<polygon points="812.50,1055.20 809.70,1051.80 815.30,1051.80" fill="#000" stroke="none" stroke-width="0" />
<polygon points="918.90,948.00 922.30,945.20 922.30,950.80" fill="#000" stroke="none" stroke-width="0" />
<polygon points="1316.40,948.00 1313.00,945.20 1313.00,950.80" fill="#000" stroke="none" stroke-width="0" />
<polygon points="1060.00,1116.00 1057.20,1112.60 1062.80,1112.60" fill="#000" stroke="none" stroke-width="0" />
<polygon points="556.20,970.80 553.40,967.40 559.00,967.40" fill="#000" stroke="none" stroke-width="0" />
<polygon points="1182.50,423.80 1179.70,427.20 1185.30,427.20" fill="#000" stroke="none" stroke-width="0" />
<polygon points="910.30,404.00 907.50,407.40 913.10,407.40" fill="#000" stroke="none" stroke-width="0" />
</g>
<g id="blue">
<rect x="647.50" y="427.20" width="681.30" height="13.90" fill="#4472C4" />
<rect x="649.30" y="427.20" width="13.90" height="53.80" fill="#4472C4" />
<rect x="445.50" y="475.90" width="210.70" height="12.70" fill="#4472C4" />
<rect x="445.50" y="475.90" width="13.60" height="510.80" fill="#4472C4" />
<rect x="444.50" y="973.00" width="468.00" height="13.70" fill="#4472C4" />
<rect x="906.10" y="717.00" width="13.80" height="264.00" fill="#4472C4" />
<rect x="912.60" y="707.30" width="409.40" height="13.90" fill="#4472C4" />
<rect x="1315.00" y="427.20" width="13.80" height="284.80" fill="#4472C4" />
<rect x="461.00" y="728.10" width="53.40" height="12.70" fill="#4472C4" />
<rect x="555.40" y="728.10" width="53.00" height="12.70" fill="#4472C4" />
<rect x="649.20" y="728.10" width="47.80" height="12.70" fill="#4472C4" />
<rect x="695.00" y="716.30" width="53.50" height="13.10" fill="#4472C4" />
<rect x="788.50" y="716.30" width="50.30" height="13.10" fill="#4472C4" />
<polygon points="358.65,163.99 597.50,427.65 589.68,434.73 622.50,447.50 613.02,413.58 605.21,420.66 366.35,157.01" fill="#4472C4" stroke="none" stroke-width="0" />
<polygon points="1070.66,124.04 942.64,375.86 933.24,371.08 933.00,406.30 961.32,385.36 951.91,380.58 1079.94,128.76" fill="#4472C4" stroke="none" stroke-width="0" />
<polygon points="283.37,921.99 430.77,878.42 433.76,888.53 459.50,864.50 424.83,858.33 427.82,868.44 280.43,912.01" fill="#4472C4" stroke="none" stroke-width="0" />
<polygon points="342.86,1098.90 408.27,1034.15 415.69,1041.65 427.00,1008.30 393.53,1019.26 400.95,1026.76 335.54,1091.50" fill="#4472C4" stroke="none" stroke-width="0" />
<polygon points="735.90,1124.58 708.31,1027.48 718.46,1024.60 694.70,998.60 688.16,1033.21 698.31,1030.32 725.90,1127.42" fill="#4472C4" stroke="none" stroke-width="0" />
</g>
<g id="red">
<rect x="586.90" y="614.00" width="13.10" height="13.00" fill="#FF0000" />
<rect x="614.00" y="614.00" width="13.10" height="13.00" fill="#FF0000" />
<rect x="641.10" y="614.00" width="13.10" height="13.00" fill="#FF0000" />
<rect x="668.20" y="614.00" width="13.10" height="13.00" fill="#FF0000" />
<rect x="695.30" y="614.00" width="13.10" height="13.00" fill="#FF0000" />
<rect x="596.10" y="820.60" width="13.20" height="13.10" fill="#FF0000" />
<rect x="623.05" y="820.60" width="13.20" height="13.10" fill="#FF0000" />
<rect x="650.00" y="820.60" width="13.20" height="13.10" fill="#FF0000" />
<rect x="676.95" y="820.60" width="13.20" height="13.10" fill="#FF0000" />
<rect x="703.90" y="820.60" width="13.20" height="13.10" fill="#FF0000" />
<polygon points="298.32,327.82 537.07,591.33 529.18,598.48 562.00,611.25 552.52,577.33 544.63,584.48 305.88,320.98" fill="#FF0000" stroke="none" stroke-width="0" />
<polygon points="283.05,346.82 568.83,777.18 559.95,783.07 590.50,800.60 586.20,765.65 577.32,771.54 291.55,341.18" fill="#FF0000" stroke="none" stroke-width="0" />
<polygon points="261.17,614.85 576.50,727.18 572.94,737.17 607.90,732.90 583.51,707.49 579.95,717.48 264.63,605.15" fill="#FF0000" stroke="none" stroke-width="0" />
</g>
<g id="notes" font-family="'Liberation Sans', sans-serif" fill="#000">
<text x="173.52" y="141.70" font-size="40.5" fill="#000" textLength="156.97" lengthAdjust="spacingAndGlyphs" >Cracked</text>
<text x="1032.34" y="103.75" font-size="40.5" fill="#000" textLength="155.16" lengthAdjust="spacingAndGlyphs" >Cracked</text>
<text x="113.23" y="305.80" font-size="40.5" fill="#000" textLength="61.85" lengthAdjust="spacingAndGlyphs" >JES</text>
<text x="185.74" y="305.80" font-size="40.5" fill="#000" textLength="173.38" lengthAdjust="spacingAndGlyphs" >supports</text>
<text x="70.74" y="600.00" font-size="40.5" fill="#000" textLength="60.82" lengthAdjust="spacingAndGlyphs" >JES</text>
<text x="143.07" y="600.00" font-size="40.5" fill="#000" textLength="124.81" lengthAdjust="spacingAndGlyphs" >jacked</text>
<text x="278.79" y="600.00" font-size="40.5" fill="#000" textLength="112.35" lengthAdjust="spacingAndGlyphs" >beam</text>
<text x="70.99" y="657.70" font-size="40.5" fill="#000" textLength="38.60" lengthAdjust="spacingAndGlyphs" >to</text>
<text x="123.46" y="657.70" font-size="40.5" fill="#000" textLength="92.13" lengthAdjust="spacingAndGlyphs" >level</text>
<text x="92.38" y="898.75" font-size="40.5" fill="#000" textLength="106.83" lengthAdjust="spacingAndGlyphs" >Crack</text>
<text x="92.37" y="956.70" font-size="40.5" fill="#000" textLength="116.53" lengthAdjust="spacingAndGlyphs" >inside</text>
<text x="150.63" y="1076.50" font-size="40.5" fill="#000" textLength="156.35" lengthAdjust="spacingAndGlyphs" >Cracked</text>
<text x="665.74" y="1188.30" font-size="40.5" fill="#000" textLength="155.32" lengthAdjust="spacingAndGlyphs" >Cracked</text>
<text x="1417.40" y="1347.70" font-size="56.5" fill="#000" textLength="134.30" lengthAdjust="spacingAndGlyphs" >Level</text>
<text x="1567.42" y="1347.70" font-size="56.5" fill="#000" textLength="30.94" lengthAdjust="spacingAndGlyphs" >1</text>
<text x="13.50" y="1313.00" font-size="22.8" fill="#000" textLength="126.91" lengthAdjust="spacingAndGlyphs" >Dimensions</text>
<text x="146.92" y="1313.00" font-size="22.8" fill="#000" textLength="41.04" lengthAdjust="spacingAndGlyphs" >and</text>
<text x="193.32" y="1313.00" font-size="22.8" fill="#000" textLength="68.17" lengthAdjust="spacingAndGlyphs" >layout</text>
<text x="268.41" y="1313.00" font-size="22.8" fill="#000" textLength="35.68" lengthAdjust="spacingAndGlyphs" >are</text>
<text x="13.89" y="1345.00" font-size="22.8" fill="#000" textLength="153.24" lengthAdjust="spacingAndGlyphs" >approximated</text>
<text x="173.17" y="1345.00" font-size="22.8" fill="#000" textLength="41.04" lengthAdjust="spacingAndGlyphs" >and</text>
<text x="220.37" y="1345.00" font-size="22.8" fill="#000" textLength="53.57" lengthAdjust="spacingAndGlyphs" >must</text>
<text x="281.35" y="1345.00" font-size="22.8" fill="#000" textLength="27.81" lengthAdjust="spacingAndGlyphs" >be</text>
<text x="316.11" y="1345.00" font-size="22.8" fill="#000" textLength="82.68" lengthAdjust="spacingAndGlyphs" >verified</text>
<text x="13.78" y="1376.75" font-size="22.8" fill="#000" textLength="52.16" lengthAdjust="spacingAndGlyphs" >prior</text>
<text x="73.30" y="1376.75" font-size="22.8" fill="#000" textLength="22.71" lengthAdjust="spacingAndGlyphs" >to</text>
<text x="102.11" y="1376.75" font-size="22.8" fill="#000" textLength="80.12" lengthAdjust="spacingAndGlyphs" >making</text>
<text x="187.69" y="1376.75" font-size="22.8" fill="#000" textLength="38.75" lengthAdjust="spacingAndGlyphs" >any</text>
<text x="233.33" y="1376.75" font-size="22.8" fill="#000" textLength="47.25" lengthAdjust="spacingAndGlyphs" >final</text>
<text x="286.43" y="1376.75" font-size="22.8" fill="#000" textLength="71.46" lengthAdjust="spacingAndGlyphs" >design</text>
<text x="13.94" y="1409.50" font-size="22.8" fill="#000" textLength="100.71" lengthAdjust="spacingAndGlyphs" >decisions</text>
</g>
</svg>
</body>
</html>
